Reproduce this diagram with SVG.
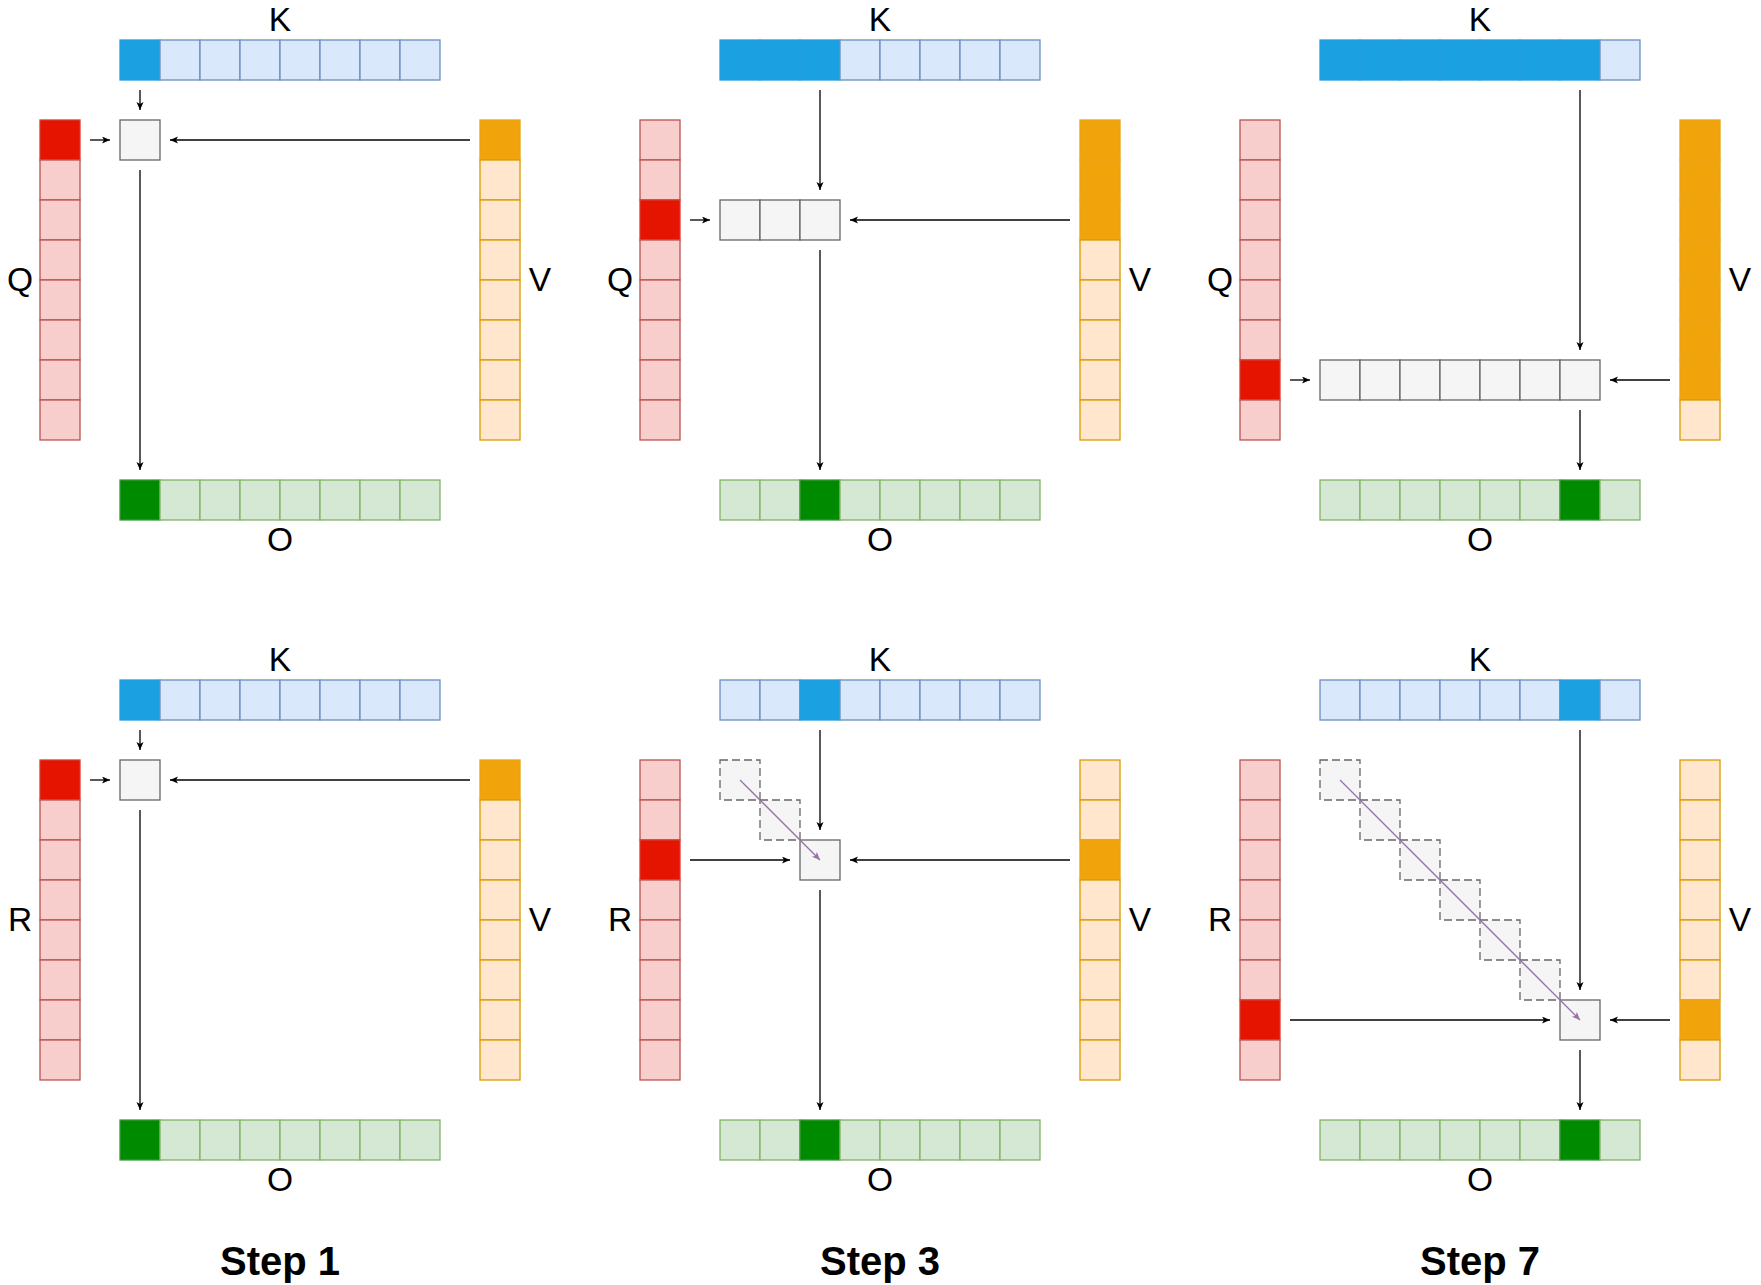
<svg xmlns="http://www.w3.org/2000/svg" width="1761" height="1285" viewBox="0 0 1761 1285">
<style>
.k{fill:#dae8fc;stroke:#6c8ebf}
.kd{fill:#1ba1e2;stroke:#249dde}
.q{fill:#f8cecc;stroke:#b85450}
.qd{fill:#e51400;stroke:#d9392e}
.v{fill:#ffe6cc;stroke:#d79b00}
.vd{fill:#f0a30a;stroke:#e9a214}
.o{fill:#d5e8d4;stroke:#82b366}
.od{fill:#008a00;stroke:#3a9a3a}
.c{fill:#f5f5f5;stroke:#666666}
.cd{fill:#f5f5f5;stroke:#666666;stroke-dasharray:8 4}
rect{stroke-width:1.3}
.lbl{font-family:"Liberation Sans",Arial,Helvetica,sans-serif;font-size:33.5px;fill:#000;text-anchor:middle}
.step{font-family:"Liberation Sans",Arial,Helvetica,sans-serif;font-size:40px;font-weight:bold;fill:#000;text-anchor:middle}
.a{stroke:#000;stroke-width:1.3;fill:none;marker-end:url(#ah)}
.p{stroke:#9673a6;stroke-width:1.3;fill:none;marker-end:url(#ap)}
</style>
<defs>
<marker id="ah" markerUnits="userSpaceOnUse" markerWidth="10" markerHeight="8" refX="8" refY="3.5" orient="auto">
<path d="M0,0 L8,3.5 L0,7 L2,3.5 Z" fill="#000"/>
</marker>
<marker id="ap" markerUnits="userSpaceOnUse" markerWidth="10" markerHeight="8" refX="8" refY="3.5" orient="auto">
<path d="M0,0 L8,3.5 L0,7 L2,3.5 Z" fill="#9673a6"/>
</marker>
</defs>
<rect x="0" y="0" width="1761" height="1285" fill="#ffffff" style="stroke:none"/>

<!-- Panel A: Step 1 top -->
<g id="panelA">
<g id="A-K">
<rect class="kd" x="120" y="40" width="40" height="40"/><rect class="k" x="160" y="40" width="40" height="40"/><rect class="k" x="200" y="40" width="40" height="40"/><rect class="k" x="240" y="40" width="40" height="40"/><rect class="k" x="280" y="40" width="40" height="40"/><rect class="k" x="320" y="40" width="40" height="40"/><rect class="k" x="360" y="40" width="40" height="40"/><rect class="k" x="400" y="40" width="40" height="40"/>
<text class="lbl" x="280" y="31">K</text>
</g>
<g id="A-Q">
<rect class="qd" x="40" y="120" width="40" height="40"/><rect class="q" x="40" y="160" width="40" height="40"/><rect class="q" x="40" y="200" width="40" height="40"/><rect class="q" x="40" y="240" width="40" height="40"/><rect class="q" x="40" y="280" width="40" height="40"/><rect class="q" x="40" y="320" width="40" height="40"/><rect class="q" x="40" y="360" width="40" height="40"/><rect class="q" x="40" y="400" width="40" height="40"/>
<text class="lbl" x="20" y="291">Q</text>
</g>
<g id="A-V">
<rect class="vd" x="480" y="120" width="40" height="40"/><rect class="v" x="480" y="160" width="40" height="40"/><rect class="v" x="480" y="200" width="40" height="40"/><rect class="v" x="480" y="240" width="40" height="40"/><rect class="v" x="480" y="280" width="40" height="40"/><rect class="v" x="480" y="320" width="40" height="40"/><rect class="v" x="480" y="360" width="40" height="40"/><rect class="v" x="480" y="400" width="40" height="40"/>
<text class="lbl" x="540" y="291">V</text>
</g>
<g id="A-O">
<rect class="od" x="120" y="480" width="40" height="40"/><rect class="o" x="160" y="480" width="40" height="40"/><rect class="o" x="200" y="480" width="40" height="40"/><rect class="o" x="240" y="480" width="40" height="40"/><rect class="o" x="280" y="480" width="40" height="40"/><rect class="o" x="320" y="480" width="40" height="40"/><rect class="o" x="360" y="480" width="40" height="40"/><rect class="o" x="400" y="480" width="40" height="40"/>
<text class="lbl" x="280" y="551">O</text>
</g>
<g id="A-S">
<rect class="c" x="120" y="120" width="40" height="40"/>
</g>
</g>

<!-- Panel B: Step 3 top -->
<g id="panelB">
<g id="B-K">
<rect class="kd" x="720" y="40" width="40" height="40"/><rect class="kd" x="760" y="40" width="40" height="40"/><rect class="kd" x="800" y="40" width="40" height="40"/><rect class="k" x="840" y="40" width="40" height="40"/><rect class="k" x="880" y="40" width="40" height="40"/><rect class="k" x="920" y="40" width="40" height="40"/><rect class="k" x="960" y="40" width="40" height="40"/><rect class="k" x="1000" y="40" width="40" height="40"/>
<text class="lbl" x="880" y="31">K</text>
</g>
<g id="B-Q">
<rect class="q" x="640" y="120" width="40" height="40"/><rect class="q" x="640" y="160" width="40" height="40"/><rect class="qd" x="640" y="200" width="40" height="40"/><rect class="q" x="640" y="240" width="40" height="40"/><rect class="q" x="640" y="280" width="40" height="40"/><rect class="q" x="640" y="320" width="40" height="40"/><rect class="q" x="640" y="360" width="40" height="40"/><rect class="q" x="640" y="400" width="40" height="40"/>
<text class="lbl" x="620" y="291">Q</text>
</g>
<g id="B-V">
<rect class="vd" x="1080" y="120" width="40" height="40"/><rect class="vd" x="1080" y="160" width="40" height="40"/><rect class="vd" x="1080" y="200" width="40" height="40"/><rect class="v" x="1080" y="240" width="40" height="40"/><rect class="v" x="1080" y="280" width="40" height="40"/><rect class="v" x="1080" y="320" width="40" height="40"/><rect class="v" x="1080" y="360" width="40" height="40"/><rect class="v" x="1080" y="400" width="40" height="40"/>
<text class="lbl" x="1140" y="291">V</text>
</g>
<g id="B-O">
<rect class="o" x="720" y="480" width="40" height="40"/><rect class="o" x="760" y="480" width="40" height="40"/><rect class="od" x="800" y="480" width="40" height="40"/><rect class="o" x="840" y="480" width="40" height="40"/><rect class="o" x="880" y="480" width="40" height="40"/><rect class="o" x="920" y="480" width="40" height="40"/><rect class="o" x="960" y="480" width="40" height="40"/><rect class="o" x="1000" y="480" width="40" height="40"/>
<text class="lbl" x="880" y="551">O</text>
</g>
<g id="B-S">
<rect class="c" x="720" y="200" width="40" height="40"/><rect class="c" x="760" y="200" width="40" height="40"/><rect class="c" x="800" y="200" width="40" height="40"/>
</g>
</g>

<!-- Panel C: Step 7 top -->
<g id="panelC">
<g id="C-K">
<rect class="kd" x="1320" y="40" width="40" height="40"/><rect class="kd" x="1360" y="40" width="40" height="40"/><rect class="kd" x="1400" y="40" width="40" height="40"/><rect class="kd" x="1440" y="40" width="40" height="40"/><rect class="kd" x="1480" y="40" width="40" height="40"/><rect class="kd" x="1520" y="40" width="40" height="40"/><rect class="kd" x="1560" y="40" width="40" height="40"/><rect class="k" x="1600" y="40" width="40" height="40"/>
<text class="lbl" x="1480" y="31">K</text>
</g>
<g id="C-Q">
<rect class="q" x="1240" y="120" width="40" height="40"/><rect class="q" x="1240" y="160" width="40" height="40"/><rect class="q" x="1240" y="200" width="40" height="40"/><rect class="q" x="1240" y="240" width="40" height="40"/><rect class="q" x="1240" y="280" width="40" height="40"/><rect class="q" x="1240" y="320" width="40" height="40"/><rect class="qd" x="1240" y="360" width="40" height="40"/><rect class="q" x="1240" y="400" width="40" height="40"/>
<text class="lbl" x="1220" y="291">Q</text>
</g>
<g id="C-V">
<rect class="vd" x="1680" y="120" width="40" height="40"/><rect class="vd" x="1680" y="160" width="40" height="40"/><rect class="vd" x="1680" y="200" width="40" height="40"/><rect class="vd" x="1680" y="240" width="40" height="40"/><rect class="vd" x="1680" y="280" width="40" height="40"/><rect class="vd" x="1680" y="320" width="40" height="40"/><rect class="vd" x="1680" y="360" width="40" height="40"/><rect class="v" x="1680" y="400" width="40" height="40"/>
<text class="lbl" x="1740" y="291">V</text>
</g>
<g id="C-O">
<rect class="o" x="1320" y="480" width="40" height="40"/><rect class="o" x="1360" y="480" width="40" height="40"/><rect class="o" x="1400" y="480" width="40" height="40"/><rect class="o" x="1440" y="480" width="40" height="40"/><rect class="o" x="1480" y="480" width="40" height="40"/><rect class="o" x="1520" y="480" width="40" height="40"/><rect class="od" x="1560" y="480" width="40" height="40"/><rect class="o" x="1600" y="480" width="40" height="40"/>
<text class="lbl" x="1480" y="551">O</text>
</g>
<g id="C-S">
<rect class="c" x="1320" y="360" width="40" height="40"/><rect class="c" x="1360" y="360" width="40" height="40"/><rect class="c" x="1400" y="360" width="40" height="40"/><rect class="c" x="1440" y="360" width="40" height="40"/><rect class="c" x="1480" y="360" width="40" height="40"/><rect class="c" x="1520" y="360" width="40" height="40"/><rect class="c" x="1560" y="360" width="40" height="40"/>
</g>
</g>

<!-- Panel D: Step 1 bottom -->
<g id="panelD">
<g id="D-K">
<rect class="kd" x="120" y="680" width="40" height="40"/><rect class="k" x="160" y="680" width="40" height="40"/><rect class="k" x="200" y="680" width="40" height="40"/><rect class="k" x="240" y="680" width="40" height="40"/><rect class="k" x="280" y="680" width="40" height="40"/><rect class="k" x="320" y="680" width="40" height="40"/><rect class="k" x="360" y="680" width="40" height="40"/><rect class="k" x="400" y="680" width="40" height="40"/>
<text class="lbl" x="280" y="671">K</text>
</g>
<g id="D-R">
<rect class="qd" x="40" y="760" width="40" height="40"/><rect class="q" x="40" y="800" width="40" height="40"/><rect class="q" x="40" y="840" width="40" height="40"/><rect class="q" x="40" y="880" width="40" height="40"/><rect class="q" x="40" y="920" width="40" height="40"/><rect class="q" x="40" y="960" width="40" height="40"/><rect class="q" x="40" y="1000" width="40" height="40"/><rect class="q" x="40" y="1040" width="40" height="40"/>
<text class="lbl" x="20" y="931">R</text>
</g>
<g id="D-V">
<rect class="vd" x="480" y="760" width="40" height="40"/><rect class="v" x="480" y="800" width="40" height="40"/><rect class="v" x="480" y="840" width="40" height="40"/><rect class="v" x="480" y="880" width="40" height="40"/><rect class="v" x="480" y="920" width="40" height="40"/><rect class="v" x="480" y="960" width="40" height="40"/><rect class="v" x="480" y="1000" width="40" height="40"/><rect class="v" x="480" y="1040" width="40" height="40"/>
<text class="lbl" x="540" y="931">V</text>
</g>
<g id="D-O">
<rect class="od" x="120" y="1120" width="40" height="40"/><rect class="o" x="160" y="1120" width="40" height="40"/><rect class="o" x="200" y="1120" width="40" height="40"/><rect class="o" x="240" y="1120" width="40" height="40"/><rect class="o" x="280" y="1120" width="40" height="40"/><rect class="o" x="320" y="1120" width="40" height="40"/><rect class="o" x="360" y="1120" width="40" height="40"/><rect class="o" x="400" y="1120" width="40" height="40"/>
<text class="lbl" x="280" y="1191">O</text>
</g>
<g id="D-S">
<rect class="c" x="120" y="760" width="40" height="40"/>
</g>
</g>

<!-- Panel E: Step 3 bottom -->
<g id="panelE">
<g id="E-K">
<rect class="k" x="720" y="680" width="40" height="40"/><rect class="k" x="760" y="680" width="40" height="40"/><rect class="kd" x="800" y="680" width="40" height="40"/><rect class="k" x="840" y="680" width="40" height="40"/><rect class="k" x="880" y="680" width="40" height="40"/><rect class="k" x="920" y="680" width="40" height="40"/><rect class="k" x="960" y="680" width="40" height="40"/><rect class="k" x="1000" y="680" width="40" height="40"/>
<text class="lbl" x="880" y="671">K</text>
</g>
<g id="E-R">
<rect class="q" x="640" y="760" width="40" height="40"/><rect class="q" x="640" y="800" width="40" height="40"/><rect class="qd" x="640" y="840" width="40" height="40"/><rect class="q" x="640" y="880" width="40" height="40"/><rect class="q" x="640" y="920" width="40" height="40"/><rect class="q" x="640" y="960" width="40" height="40"/><rect class="q" x="640" y="1000" width="40" height="40"/><rect class="q" x="640" y="1040" width="40" height="40"/>
<text class="lbl" x="620" y="931">R</text>
</g>
<g id="E-V">
<rect class="v" x="1080" y="760" width="40" height="40"/><rect class="v" x="1080" y="800" width="40" height="40"/><rect class="vd" x="1080" y="840" width="40" height="40"/><rect class="v" x="1080" y="880" width="40" height="40"/><rect class="v" x="1080" y="920" width="40" height="40"/><rect class="v" x="1080" y="960" width="40" height="40"/><rect class="v" x="1080" y="1000" width="40" height="40"/><rect class="v" x="1080" y="1040" width="40" height="40"/>
<text class="lbl" x="1140" y="931">V</text>
</g>
<g id="E-O">
<rect class="o" x="720" y="1120" width="40" height="40"/><rect class="o" x="760" y="1120" width="40" height="40"/><rect class="od" x="800" y="1120" width="40" height="40"/><rect class="o" x="840" y="1120" width="40" height="40"/><rect class="o" x="880" y="1120" width="40" height="40"/><rect class="o" x="920" y="1120" width="40" height="40"/><rect class="o" x="960" y="1120" width="40" height="40"/><rect class="o" x="1000" y="1120" width="40" height="40"/>
<text class="lbl" x="880" y="1191">O</text>
</g>
<g id="E-S">
<rect class="cd" x="720" y="760" width="40" height="40"/><rect class="cd" x="760" y="800" width="40" height="40"/><rect class="c" x="800" y="840" width="40" height="40"/>
</g>
</g>

<!-- Panel F: Step 7 bottom -->
<g id="panelF">
<g id="F-K">
<rect class="k" x="1320" y="680" width="40" height="40"/><rect class="k" x="1360" y="680" width="40" height="40"/><rect class="k" x="1400" y="680" width="40" height="40"/><rect class="k" x="1440" y="680" width="40" height="40"/><rect class="k" x="1480" y="680" width="40" height="40"/><rect class="k" x="1520" y="680" width="40" height="40"/><rect class="kd" x="1560" y="680" width="40" height="40"/><rect class="k" x="1600" y="680" width="40" height="40"/>
<text class="lbl" x="1480" y="671">K</text>
</g>
<g id="F-R">
<rect class="q" x="1240" y="760" width="40" height="40"/><rect class="q" x="1240" y="800" width="40" height="40"/><rect class="q" x="1240" y="840" width="40" height="40"/><rect class="q" x="1240" y="880" width="40" height="40"/><rect class="q" x="1240" y="920" width="40" height="40"/><rect class="q" x="1240" y="960" width="40" height="40"/><rect class="qd" x="1240" y="1000" width="40" height="40"/><rect class="q" x="1240" y="1040" width="40" height="40"/>
<text class="lbl" x="1220" y="931">R</text>
</g>
<g id="F-V">
<rect class="v" x="1680" y="760" width="40" height="40"/><rect class="v" x="1680" y="800" width="40" height="40"/><rect class="v" x="1680" y="840" width="40" height="40"/><rect class="v" x="1680" y="880" width="40" height="40"/><rect class="v" x="1680" y="920" width="40" height="40"/><rect class="v" x="1680" y="960" width="40" height="40"/><rect class="vd" x="1680" y="1000" width="40" height="40"/><rect class="v" x="1680" y="1040" width="40" height="40"/>
<text class="lbl" x="1740" y="931">V</text>
</g>
<g id="F-O">
<rect class="o" x="1320" y="1120" width="40" height="40"/><rect class="o" x="1360" y="1120" width="40" height="40"/><rect class="o" x="1400" y="1120" width="40" height="40"/><rect class="o" x="1440" y="1120" width="40" height="40"/><rect class="o" x="1480" y="1120" width="40" height="40"/><rect class="o" x="1520" y="1120" width="40" height="40"/><rect class="od" x="1560" y="1120" width="40" height="40"/><rect class="o" x="1600" y="1120" width="40" height="40"/>
<text class="lbl" x="1480" y="1191">O</text>
</g>
<g id="F-S">
<rect class="cd" x="1320" y="760" width="40" height="40"/><rect class="cd" x="1360" y="800" width="40" height="40"/><rect class="cd" x="1400" y="840" width="40" height="40"/><rect class="cd" x="1440" y="880" width="40" height="40"/><rect class="cd" x="1480" y="920" width="40" height="40"/><rect class="cd" x="1520" y="960" width="40" height="40"/><rect class="c" x="1560" y="1000" width="40" height="40"/>
</g>
</g>

<g id="connectors">
<line class="a" x1="140" y1="90" x2="140" y2="110"/>
<line class="a" x1="90" y1="140" x2="110" y2="140"/>
<line class="a" x1="470" y1="140" x2="170" y2="140"/>
<line class="a" x1="140" y1="170" x2="140" y2="470"/>

<line class="a" x1="820" y1="90" x2="820" y2="190"/>
<line class="a" x1="690" y1="220" x2="710" y2="220"/>
<line class="a" x1="1070" y1="220" x2="850" y2="220"/>
<line class="a" x1="820" y1="250" x2="820" y2="470"/>

<line class="a" x1="1580" y1="90" x2="1580" y2="350"/>
<line class="a" x1="1290" y1="380" x2="1310" y2="380"/>
<line class="a" x1="1670" y1="380" x2="1610" y2="380"/>
<line class="a" x1="1580" y1="410" x2="1580" y2="470"/>

<line class="a" x1="140" y1="730" x2="140" y2="750"/>
<line class="a" x1="90" y1="780" x2="110" y2="780"/>
<line class="a" x1="470" y1="780" x2="170" y2="780"/>
<line class="a" x1="140" y1="810" x2="140" y2="1110"/>

<line class="a" x1="820" y1="730" x2="820" y2="830"/>
<line class="a" x1="690" y1="860" x2="790" y2="860"/>
<line class="a" x1="1070" y1="860" x2="850" y2="860"/>
<line class="a" x1="820" y1="890" x2="820" y2="1110"/>
<line class="p" x1="740" y1="780" x2="820" y2="860"/>

<line class="a" x1="1580" y1="730" x2="1580" y2="990"/>
<line class="a" x1="1290" y1="1020" x2="1550" y2="1020"/>
<line class="a" x1="1670" y1="1020" x2="1610" y2="1020"/>
<line class="a" x1="1580" y1="1050" x2="1580" y2="1110"/>
<line class="p" x1="1340" y1="780" x2="1580" y2="1020"/>
</g>

<g id="steps">
<text class="step" x="280" y="1275">Step 1</text>
<text class="step" x="880" y="1275">Step 3</text>
<text class="step" x="1480" y="1275">Step 7</text>
</g>
</svg>
